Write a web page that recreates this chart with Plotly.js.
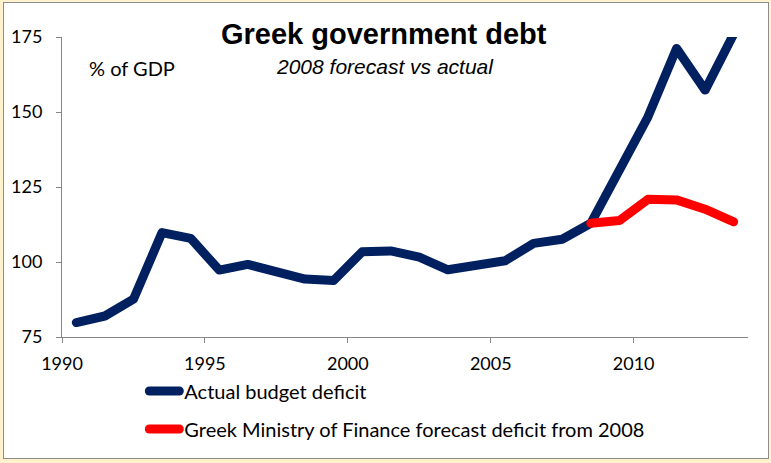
<!DOCTYPE html>
<html>
<head>
<meta charset="utf-8">
<script src="https://cdn.plot.ly/plotly-3.0.1.min.js"></script>
<style>
  html, body { margin: 0; padding: 0; background: #FFF2CC; width: 771px; height: 463px; overflow: hidden; }
  #frame { position: absolute; left: 3px; top: 2px; width: 764px; height: 455px; border: 1px solid #8c8c8c; background: #ffffff; }
  #chart { width: 764px; height: 455px; }
  #chart path.js-line, #chart .legendlines path { stroke-linejoin: round; stroke-linecap: round; }
</style>
</head>
<body>
<div id="frame"><div id="chart"></div></div>
<script>
// Data
var years = [1990, 1991, 1992, 1993, 1994, 1995, 1996, 1997, 1998, 1999, 2000, 2001,
             2002, 2003, 2004, 2005, 2006, 2007, 2008, 2009, 2010, 2011, 2012, 2013];
var actualDebt = [79.8, 82.0, 87.6, 109.8, 107.9, 97.3, 99.2, 96.8, 94.3, 93.8, 103.4, 103.7,
                  101.6, 97.4, 99.0, 100.4, 106.2, 107.6, 112.9, 131.0, 148.4, 171.2, 157.3, 176.0];
var forecastYears = [2008, 2009, 2010, 2011, 2012, 2013];
var forecastDebt = [112.9, 113.8, 120.9, 120.7, 117.6, 113.4];
var xTickVals = [1990, 1995, 2000, 2005, 2010];
var yTickVals = [75, 100, 125, 150, 175];
var seriesNames = ["Actual budget deficit", "Greek Ministry of Finance forecast deficit from 2008"];

// points sit in the middle of each year's category
function mid(arr) { return arr.map(function (y) { return y + 0.5; }); }

var traces = [
  {
    x: mid(years), y: actualDebt, type: "scatter", mode: "lines",
    name: seriesNames[0], legendgroup: "a",
    line: { color: "#002060", width: 9 }
  },
  {
    x: mid(forecastYears), y: forecastDebt, type: "scatter", mode: "lines",
    name: seriesNames[1], legendgroup: "b",
    line: { color: "#FF0000", width: 9 }
  }
];

var tickFont = { family: "Lato, 'Noto Sans', sans-serif", size: 18, color: "#000000" };

var layout = {
  width: 764, height: 455,
  margin: { l: 58, r: 20, t: 34, b: 121, autoexpand: false },
  paper_bgcolor: "#ffffff", plot_bgcolor: "#ffffff",
  showlegend: true,
  title: {
    text: "<b>Greek government debt</b>",
    font: { family: "'Liberation Sans', Arial, sans-serif", size: 29, color: "#000000" },
    xref: "container", x: 0.497, xanchor: "center",
    yref: "container", y: 0.932, yanchor: "middle"
  },
  xaxis: {
    range: [1990, 2014], tickvals: xTickVals, ticktext: xTickVals.map(String),
    showgrid: false, zeroline: false, showline: true, linecolor: "#868686", linewidth: 1,
    ticks: "outside", ticklen: 5, tickcolor: "#868686", tickfont: tickFont,
    ticklabelstandoff: 5
  },
  yaxis: {
    range: [75, 175], tickvals: yTickVals,
    showgrid: false, zeroline: false, showline: true, linecolor: "#868686", linewidth: 1,
    ticks: "outside", ticklen: 5, tickcolor: "#868686", tickfont: tickFont,
    ticklabelstandoff: 10
  },
  legend: {
    orientation: "v", x: 0.12, xanchor: "left",
    yref: "container", y: 0.19, yanchor: "top",
    font: { family: "Lato, 'Noto Sans', sans-serif", size: 20, color: "#000000" },
    bgcolor: "rgba(0,0,0,0)", traceorder: "grouped", tracegroupgap: 9
  },
  annotations: [
    {
      text: "<i>2008 forecast vs actual</i>", showarrow: false,
      xref: "paper", yref: "paper", x: 0.471, y: 0.903, xanchor: "center", yanchor: "middle",
      font: { family: "'Liberation Sans', Arial, sans-serif", size: 21, color: "#000000" }
    },
    {
      text: "% of GDP", showarrow: false,
      xref: "paper", yref: "paper", x: 0.036, y: 0.897, xanchor: "left", yanchor: "middle",
      font: { family: "Lato, 'Noto Sans', sans-serif", size: 20, color: "#000000" }
    }
  ]
};

Plotly.newPlot("chart", traces, layout, { staticPlot: true, displayModeBar: false });
</script>
</body>
</html>
